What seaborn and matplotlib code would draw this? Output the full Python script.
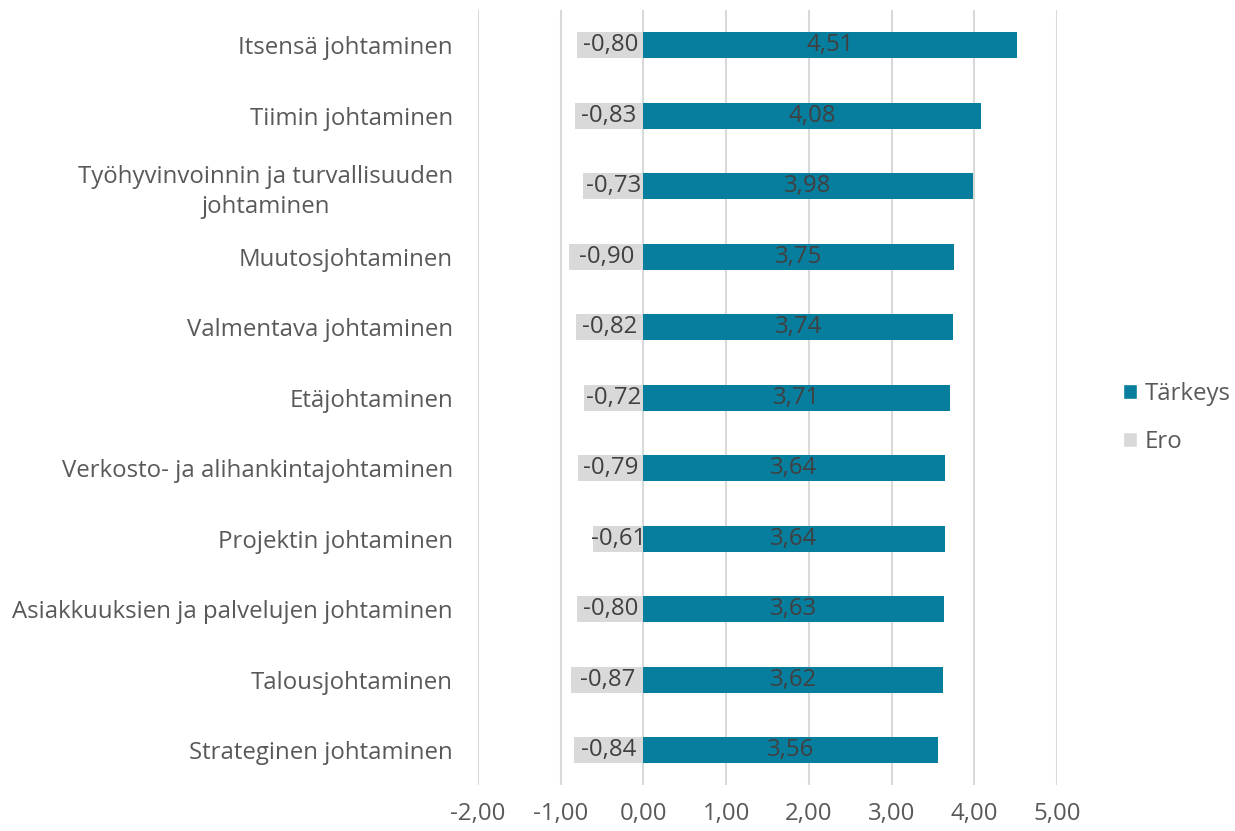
import matplotlib
matplotlib.use("Agg")
import matplotlib.pyplot as plt
import seaborn as sns
import pandas as pd
from matplotlib.patches import Patch

categories = [
    "Itsensä johtaminen",
    "Tiimin johtaminen",
    "Työhyvinvoinnin ja turvallisuuden\njohtaminen",
    "Muutosjohtaminen",
    "Valmentava johtaminen",
    "Etäjohtaminen",
    "Verkosto- ja alihankintajohtaminen",
    "Projektin johtaminen",
    "Asiakkuuksien ja palvelujen johtaminen",
    "Talousjohtaminen",
    "Strateginen johtaminen",
]
tarkeys = [4.51, 4.08, 3.98, 3.75, 3.74, 3.71, 3.64, 3.64, 3.63, 3.62, 3.56]
ero = [-0.80, -0.83, -0.73, -0.90, -0.82, -0.72, -0.79, -0.61, -0.80, -0.87, -0.84]
x_ticks = [-2, -1, 0, 1, 2, 3, 4, 5]

teal = "#087E9E"
grey = "#D9D9D9"
text_col = "#595959"
label_col = "#404040"
fs = 17.3

sns.set_theme(style="white")
plt.rcParams["font.family"] = ["Open Sans", "DejaVu Sans"]

df = pd.DataFrame({"Kategoria": categories, "Tärkeys": tarkeys, "Ero": ero})

fig = plt.figure(figsize=(12.35, 8.31), dpi=100)
ax = fig.add_axes([0.387, 0.055, 0.469, 0.933])

sns.barplot(data=df, y="Kategoria", x="Tärkeys", color=teal, width=0.37,
            orient="h", ax=ax, saturation=1, edgecolor="none", zorder=3)
sns.barplot(data=df, y="Kategoria", x="Ero", color=grey, width=0.37,
            orient="h", ax=ax, saturation=1, edgecolor="none", zorder=3)

def fmt(v):
    return f"{v:.2f}".replace(".", ",")

for cont in ax.containers:
    ax.bar_label(cont, labels=[fmt(b.get_width()) for b in cont],
                 label_type="center", fontsize=fs, color=label_col, zorder=4)

ax.set_xlim(-2, 5)
ax.set_ylim(10.5, -0.5)
ax.set_xticks(x_ticks)
ax.set_xticklabels([fmt(v) for v in x_ticks], fontsize=fs, color=text_col)
ax.tick_params(axis="y", labelsize=fs, labelcolor=text_col, length=0, pad=18)
ax.tick_params(axis="x", length=0, pad=12)
for lbl in ax.get_yticklabels():
    lbl.set_horizontalalignment("right")
    lbl.set_multialignment("center")
    lbl.set_linespacing(1.3)
ax.set_xlabel("")
ax.set_ylabel("")
for s in ax.spines.values():
    s.set_visible(False)
ax.grid(axis="x", color=grey, linewidth=1.5, zorder=0)
ax.set_axisbelow(True)

handles = [Patch(facecolor=teal, label="Tärkeys"), Patch(facecolor=grey, label="Ero")]
fig.legend(handles=handles, loc="center left", bbox_to_anchor=(0.8915, 0.497),
           frameon=False, fontsize=fs, labelcolor=text_col,
           handlelength=0.6, handleheight=0.6, handletextpad=0.3, labelspacing=1.0)

fig.savefig("out.png", dpi=100)
